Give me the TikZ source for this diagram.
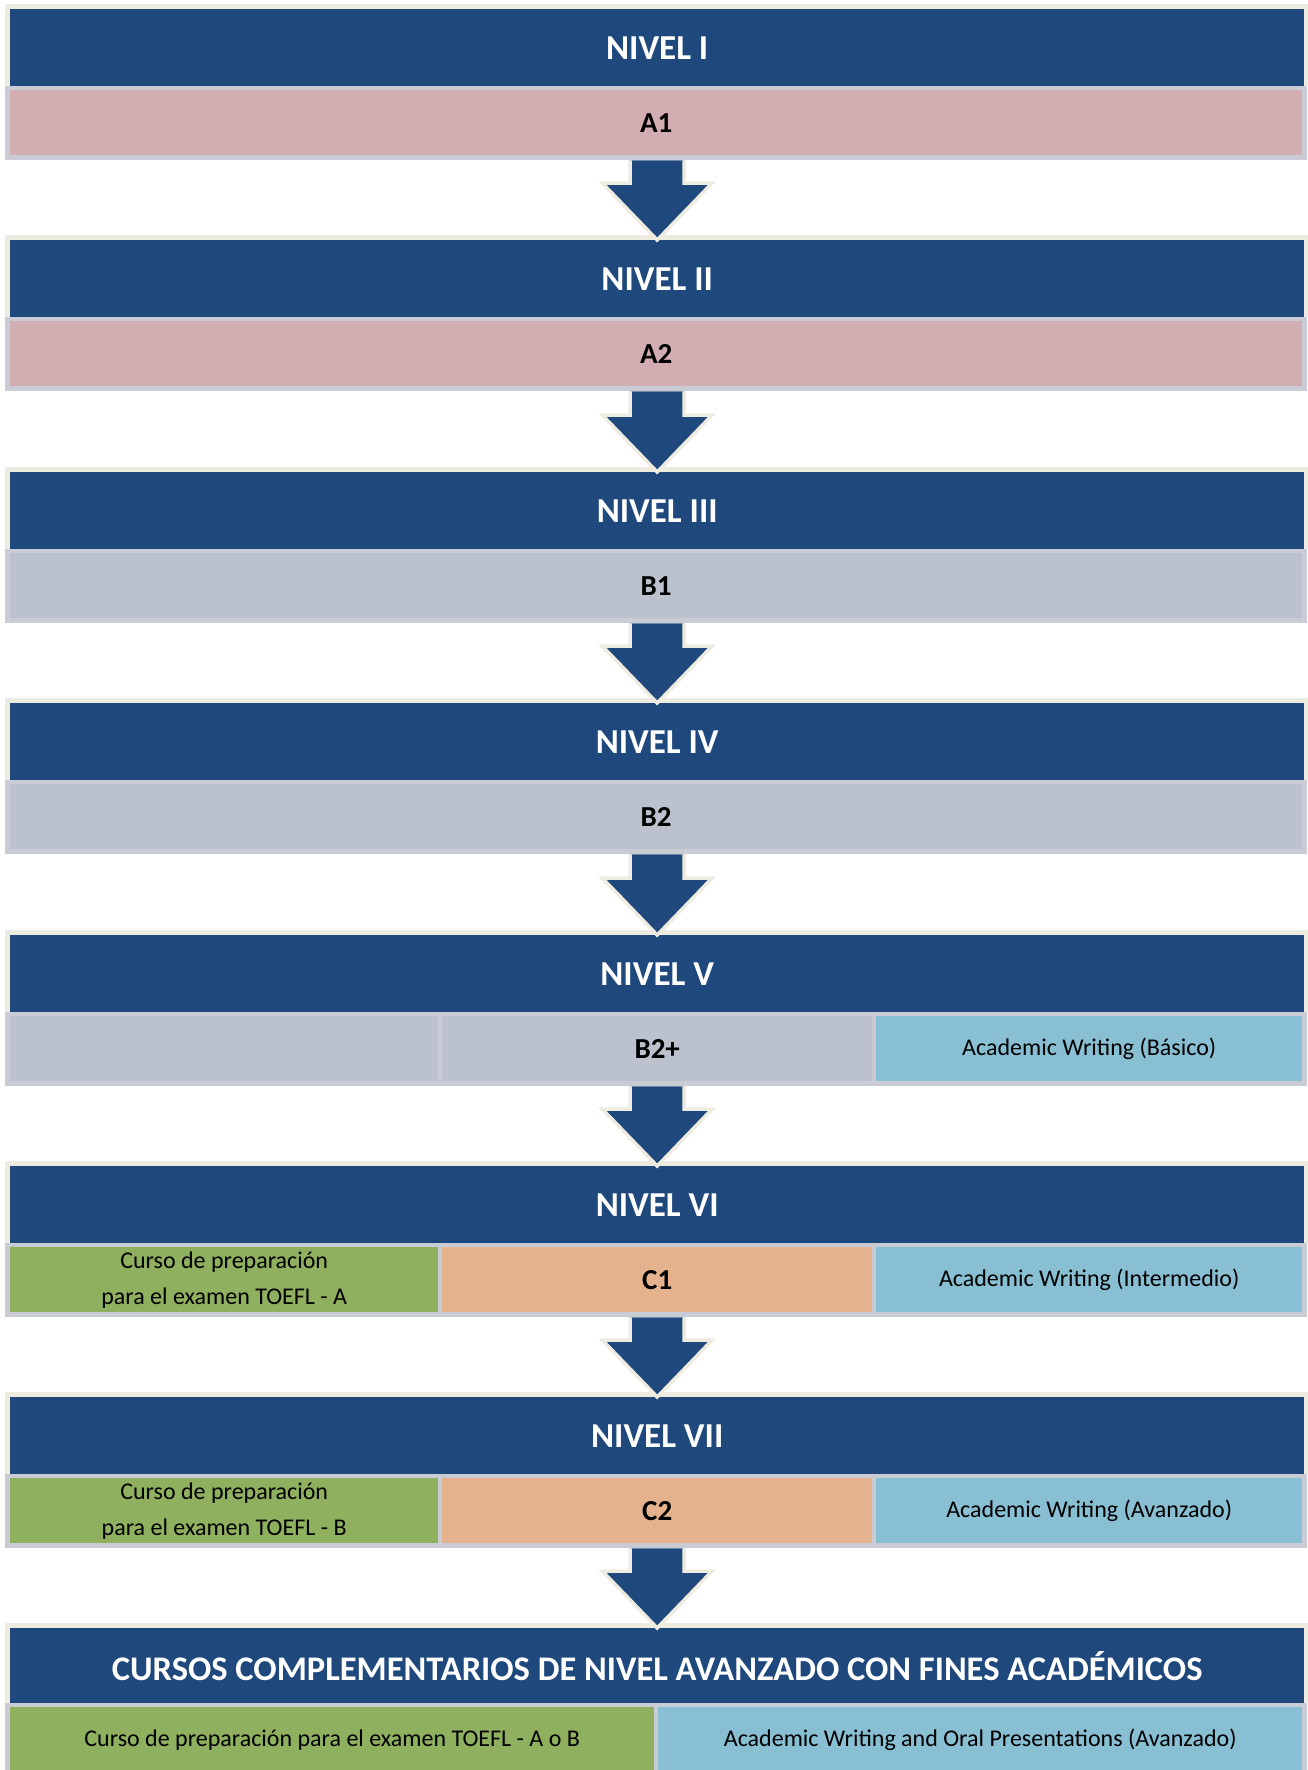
\documentclass[tikz,border=0pt]{standalone}
\usepackage{fontspec}
\setmainfont{Carlito}
\usetikzlibrary{calc,backgrounds}
\definecolor{dkblue}{HTML}{1F497D}
\definecolor{pinkrow}{HTML}{D2ADB2}
\definecolor{greyrow}{HTML}{BBC2CE}
\definecolor{greenrow}{HTML}{8FB05E}
\definecolor{orangerow}{HTML}{E4B38E}
\definecolor{bluerow}{HTML}{88BFD3}
\definecolor{tanframe}{HTML}{EEECE1}
\definecolor{greyframe}{HTML}{C9CCD5}
\begin{document}
\begin{tikzpicture}[x=1pt,y=-1pt,
  hdr/.style={fill=dkblue, text=white, font=\bfseries\fontsize{35}{42}\selectfont,
    minimum width=1294pt, minimum height=77pt, inner sep=0pt, anchor=north west},
  rowcell/.style={minimum height=65pt, inner sep=0pt, anchor=north west, align=center},
  boldtxt/.style={font=\bfseries\fontsize{29}{34}\selectfont},
  regtxt/.style={font=\fontsize{24}{36}\selectfont},
  arr/.style={fill=dkblue, draw=tanframe, line width=3.5pt, line join=miter}
]
\useasboundingbox (0,0) rectangle (1307,1770);
\clip (0,0) rectangle (1307,1770);

\newcommand\framesfor[3]{% header, leftmost row cell, rightmost row cell
  \begin{scope}[on background layer]
    \fill[tanframe] ($(#1.north west)+(-5,-5)$) rectangle ($(#1.south east)+(4,0)$);
    \fill[greyframe] ($(#1.south west)+(-5,0)$) rectangle ($(#3.south east)+(5,5)$);
  \end{scope}}
\newcommand\blockarrow[2]{%
  \draw[arr] ($(#1.south -| #2.north)+(-27,5)$) -- ($(#2.north)+(-27,-57)$)
    -- ($(#2.north)+(-55,-57)$) -- (#2.north) -- ($(#2.north)+(55,-57)$)
    -- ($(#2.north)+(27,-57)$) -- ($(#1.south -| #2.north)+(27,5)$);}

% Level I
\node[hdr] (h1) at (10,9) {NIVEL I};
\node[rowcell, boldtxt, fill=pinkrow, minimum width=1292pt] (r1) at (10,90) {A1};
\framesfor{h1}{r1}{r1}
% Level II
\node[hdr] (h2) at (10,240) {NIVEL II};
\node[rowcell, boldtxt, fill=pinkrow, minimum width=1292pt] (r2) at (10,321) {A2};
\framesfor{h2}{r2}{r2}
% Level III
\node[hdr] (h3) at (10,472) {NIVEL III};
\node[rowcell, boldtxt, fill=greyrow, minimum width=1292pt] (r3) at (10,553) {B1};
\framesfor{h3}{r3}{r3}
% Level IV
\node[hdr] (h4) at (10,703) {NIVEL IV};
\node[rowcell, boldtxt, fill=greyrow, minimum width=1292pt] (r4) at (10,784) {B2};
\framesfor{h4}{r4}{r4}
% Level V
\node[hdr] (h5) at (10,935) {NIVEL V};
\node[rowcell, fill=greyrow, minimum width=428pt] (r5a) at (10,1016) {};
\node[rowcell, boldtxt, fill=greyrow, minimum width=430pt] (r5) at (442,1016) {B2+};
\node[rowcell, regtxt, fill=bluerow, minimum width=426pt] (r5c) at (876,1016) {Academic Writing (Básico)};
\framesfor{h5}{r5a}{r5c}
% Level VI
\node[hdr] (h6) at (10,1166) {NIVEL VI};
\node[rowcell, regtxt, fill=greenrow, minimum width=428pt] (r6a) at (10,1247) {Curso de preparación\\para el examen TOEFL - A};
\node[rowcell, boldtxt, fill=orangerow, minimum width=430pt] (r6) at (442,1247) {C1};
\node[rowcell, regtxt, fill=bluerow, minimum width=426pt] (r6c) at (876,1247) {Academic Writing (Intermedio)};
\framesfor{h6}{r6a}{r6c}
% Level VII
\node[hdr] (h7) at (10,1397) {NIVEL VII};
\node[rowcell, regtxt, fill=greenrow, minimum width=428pt] (r7a) at (10,1478) {Curso de preparación\\para el examen TOEFL - B};
\node[rowcell, boldtxt, fill=orangerow, minimum width=430pt] (r7) at (442,1478) {C2};
\node[rowcell, regtxt, fill=bluerow, minimum width=426pt] (r7c) at (876,1478) {Academic Writing (Avanzado)};
\framesfor{h7}{r7a}{r7c}
% Complementary courses
\node[hdr, minimum height=75pt, font=\bfseries\fontsize{34.5}{40}\selectfont] (h8) at (10,1628) {CURSOS COMPLEMENTARIOS DE NIVEL AVANZADO CON FINES ACADÉMICOS};
\node[rowcell, regtxt, fill=greenrow, minimum width=644pt] (r8a) at (10,1707) {Curso de preparación para el examen TOEFL - A o B};
\node[rowcell, regtxt, fill=bluerow, minimum width=644pt] (r8b) at (658,1707) {Academic Writing and Oral Presentations (Avanzado)};
\framesfor{h8}{r8a}{r8b}

% Arrows
\blockarrow{r1}{h2}
\blockarrow{r2}{h3}
\blockarrow{r3}{h4}
\blockarrow{r4}{h5}
\blockarrow{r5}{h6}
\blockarrow{r6}{h7}
\blockarrow{r7}{h8}
\end{tikzpicture}
\end{document}
